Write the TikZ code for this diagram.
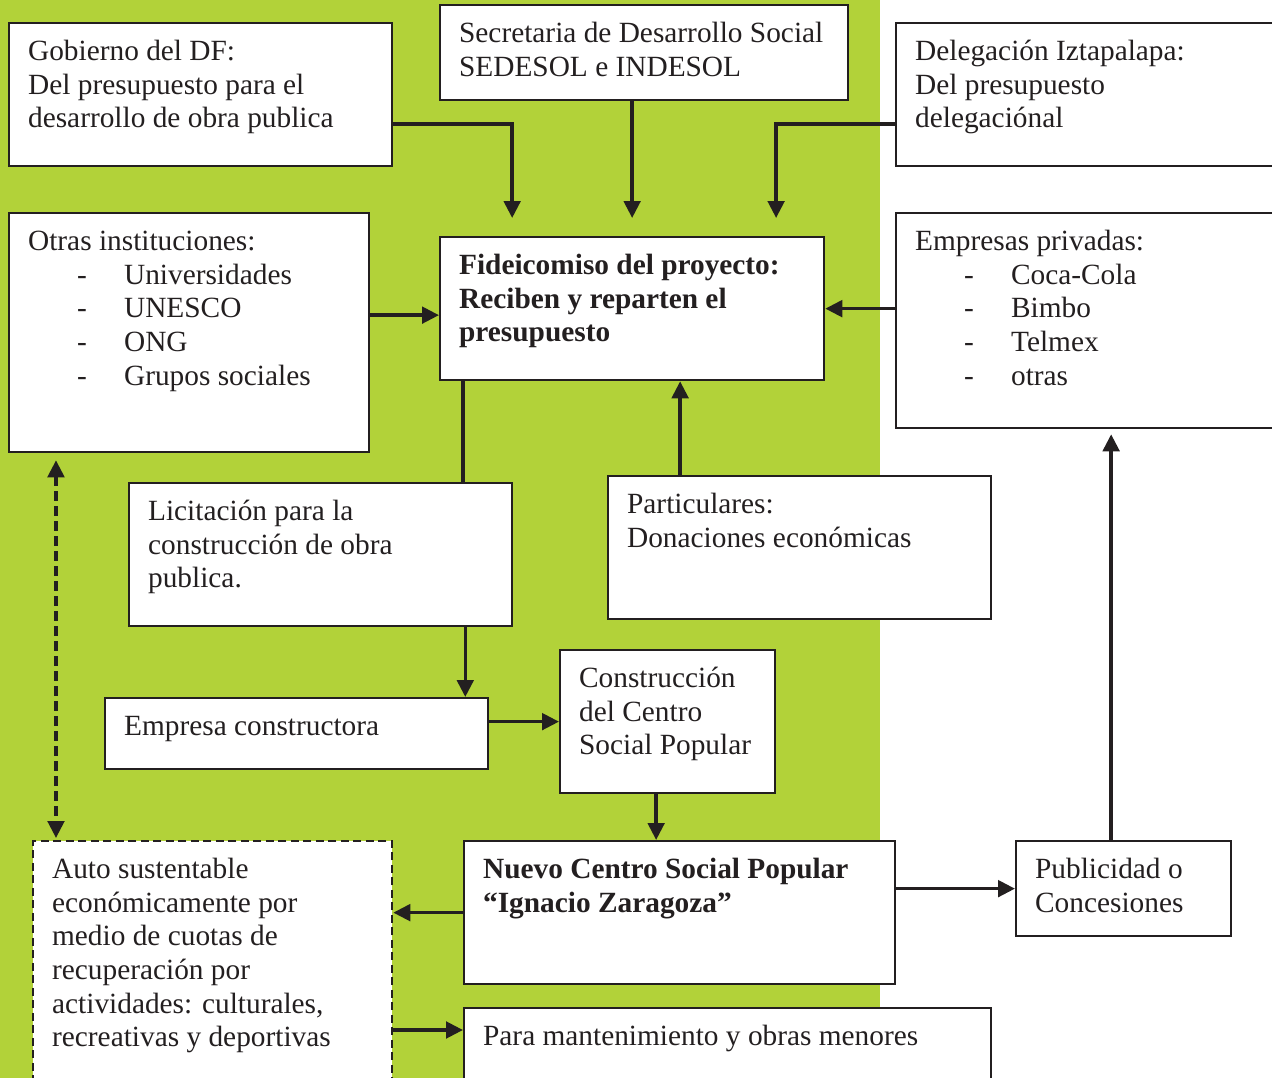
\documentclass[tikz,border=0pt]{standalone}
\usepackage{fontspec}
\setmainfont{Liberation Serif}
\usepackage{xcolor}
\definecolor{verdefondo}{RGB}{178,210,57}
\definecolor{tinta}{RGB}{35,31,32}
\usetikzlibrary{arrows.meta, calc}

% box text: width and height of the box in px, then the text
\newcommand{\textocaja}[3]{\parbox[t][\dimexpr0.02cm*#2-16.2pt\relax][t]{\dimexpr0.02cm*#1-0.4cm\relax}{\raggedright\leftskip=0.18cm\strut#3}}
\newcommand{\guion}[1]{\hspace*{0.98cm}\makebox[0.94cm][l]{-}#1}

\begin{document}
\begin{tikzpicture}[x=0.02cm, y=-0.02cm,
  caja/.style={draw=tinta, line width=1.3pt, fill=white, anchor=north west,
    inner xsep=0.2cm, inner ysep=8.1pt, text=tinta,
    font=\fontsize{16.7pt}{19.1pt}\selectfont},
  cajapunteada/.style={caja, dash pattern=on 0.16cm off 0.09cm},
  flecha/.style={draw=tinta, line width=2pt, -{Triangle[length=0.34cm, width=0.33cm]}},
  linea/.style={draw=tinta, line width=2pt}]

\clip (0,0) rectangle (1272,1078);

% --- Background: green band on the left ---
\fill[verdefondo] (0,0) rectangle (880,1078);

% --- Top row: sources of the budget ---
\node[caja] (gob) at (8,22) {\textocaja{383}{143}{Gobierno del DF:\\Del presupuesto para el\\desarrollo de obra publica}};
\node[caja] (sed) at (439,4) {\textocaja{408}{95}{Secretaria de Desarrollo Social\\SEDESOL e INDESOL}};
\node[caja] (del) at (895,22) {\textocaja{405}{143}{Delegación Iztapalapa:\\Del presupuesto\\delegaciónal}};

% --- Second row: trust fund and other contributors ---
\node[caja] (otras) at (8,212) {\textocaja{360}{239}{Otras instituciones:\\\guion{Universidades}\\\guion{UNESCO}\\\guion{ONG}\\\guion{Grupos sociales}}};
\node[caja] (fid) at (439,236) {\textocaja{384}{143}{\textbf{Fideicomiso del proyecto:\\Reciben y reparten el\\presupuesto}}};
\node[caja] (emp) at (895,212) {\textocaja{405}{215}{Empresas privadas:\\\guion{Coca-Cola}\\\guion{Bimbo}\\\guion{Telmex}\\\guion{otras}}};

% --- Middle: tender and donations ---
\node[caja] (lic) at (128,482) {\textocaja{383}{143}{Licitación para la\\construcción de obra\\publica.}};
\node[caja] (part) at (607,475) {\textocaja{383}{143}{Particulares:\\Donaciones económicas}};
\node[caja] (empc) at (104,697) {\textocaja{383}{71}{Empresa constructora}};
\node[caja] (cons) at (559,649) {\textocaja{215}{143}{Construcción\\del Centro\\Social Popular}};

% --- Bottom: the new centre and its upkeep ---
\node[caja] (nuevo) at (463,840) {\textocaja{431}{143}{\textbf{Nuevo Centro Social Popular\\“Ignacio Zaragoza”}}};
\node[caja] (pub) at (1015,840) {\textocaja{215}{95}{Publicidad o\\Concesiones}};
\node[cajapunteada] (auto) at (32,840) {\textocaja{359}{260}{Auto sustentable\\económicamente por\\medio de cuotas de\\recuperación por\\actividades: culturales,\\recreativas y deportivas}};
\node[caja] (para) at (463,1007) {\textocaja{527}{100}{Para mantenimiento y obras menores}};

% --- Connectors ---
\draw[flecha, shorten >=0.36cm] ([yshift=-0.59cm]gob.east) -| ([xshift=-2.4cm]fid.north);
\draw[flecha, shorten >=0.36cm] (sed.south -| fid.north) -- (fid.north);
\draw[flecha, shorten >=0.36cm] ([yshift=-0.59cm]del.west) -| ([xshift=2.88cm]fid.north);
\draw[flecha] ([yshift=-0.13cm]otras.east |- fid.west) -- ([yshift=-0.13cm]fid.west);
\draw[flecha] (emp.west |- fid.east) -- (fid.east);
\draw[linea] ([xshift=0.48cm]fid.south west) -- ([xshift=0.48cm]fid.south west |- lic.north);
\draw[flecha] ([xshift=0.96cm]fid.south |- part.north) -- ([xshift=0.96cm]fid.south);
\draw[flecha] ([xshift=-0.96cm]lic.south east) -- ([xshift=-0.96cm]lic.south east |- empc.north);
\draw[flecha] (empc.east |- cons.west) -- (cons.west);
\draw[flecha] ([xshift=-0.23cm]cons.south) -- ([xshift=-0.23cm]cons.south |- nuevo.north);
\draw[flecha] (nuevo.west) -- (nuevo.west -| auto.east);
\draw[flecha] ([yshift=-0.46cm]para.north west -| auto.east) -- ([yshift=-0.46cm]para.north west);
\draw[flecha] (nuevo.east |- pub.west) -- (pub.west);
\draw[flecha, shorten >=0.1cm] ([xshift=-0.25cm]pub.north) -- ([xshift=-0.25cm]pub.north |- emp.south);

% dashed two-way link between the institutions and the self-funding box
\draw[flecha, dash pattern=on 0.2cm off 0.1cm,
  {Triangle[length=0.34cm, width=0.33cm]}-{Triangle[length=0.34cm, width=0.33cm]},
  shorten <=0.14cm, shorten >=0.04cm]
  ([xshift=0.96cm]otras.south west) -- ([xshift=0.96cm]otras.south west |- auto.north);

\end{tikzpicture}
\end{document}
